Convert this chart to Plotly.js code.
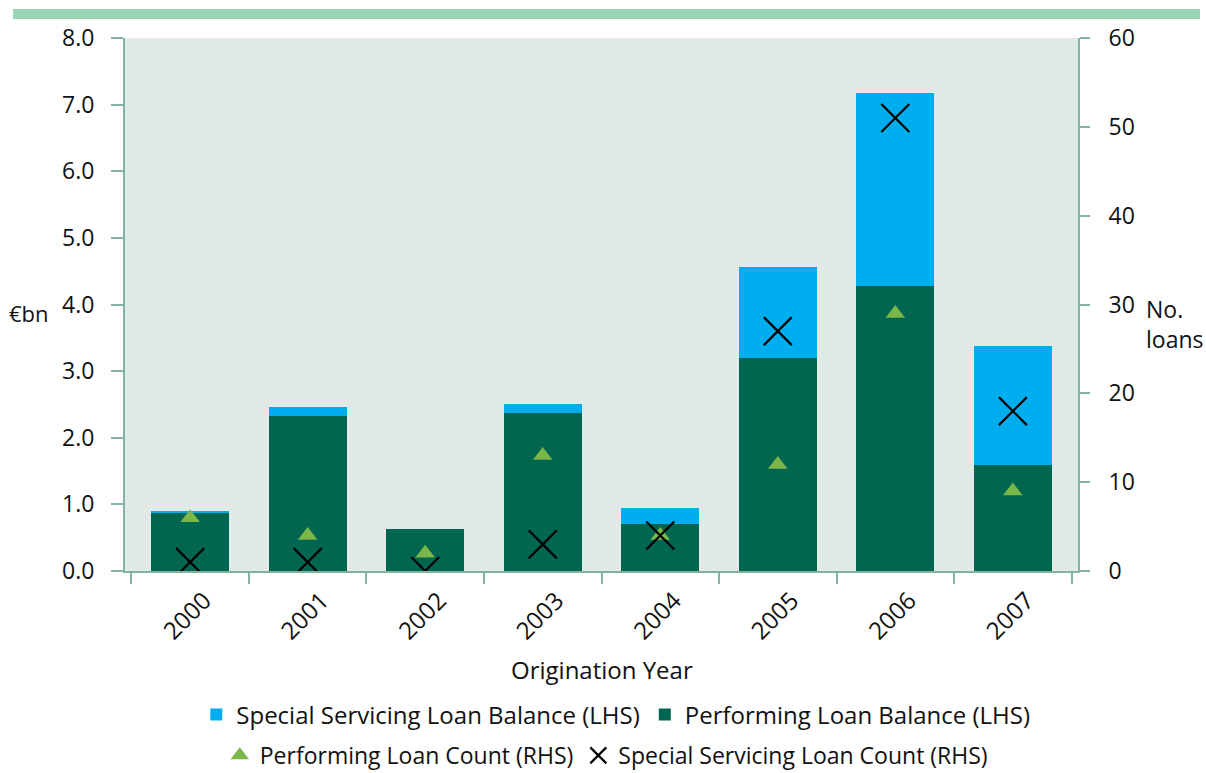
<!DOCTYPE html>
<html>
<head>
<meta charset="utf-8">
<script src="https://cdn.plot.ly/plotly-3.0.1.min.js"></script>
<style>html,body{margin:0;padding:0;background:#fff;}#chart{width:1206px;height:773px;}</style>
</head>
<body>
<div id="chart"></div>
<script>
const years = ['2000','2001','2002','2003','2004','2005','2006','2007'];
const performingBalance = [0.87, 2.33, 0.63, 2.37, 0.71, 3.20, 4.28, 1.59];
const specialBalance = [0.03, 0.13, 0.00, 0.14, 0.24, 1.36, 2.90, 1.78];
const performingCount = [6, 4, 2, 13, 4, 12, 29, 9];
const specialCount = [1, 1, 0, 3, 4, 27, 51, 18];

const FONT = 'Open Sans, DejaVu Sans, sans-serif';
const AX = '#82b4a0';

const data = [
  {type:'bar', x:years, y:performingBalance, name:'Performing Loan Balance (LHS)',
   marker:{color:'#00664f'}, legend:'legend', legendrank:2},
  {type:'bar', x:years, y:specialBalance, name:'Special Servicing Loan Balance (LHS)',
   marker:{color:'#00aeef'}, legend:'legend', legendrank:1},
  {type:'scatter', mode:'markers', x:years, y:performingCount, yaxis:'y2',
   name:'Performing Loan Count (RHS)', marker:{symbol:'triangle-up', size:17, color:'#7ab648'},
   legend:'legend2', legendrank:1},
  {type:'scatter', mode:'markers', x:years, y:specialCount, yaxis:'y2',
   name:'Special Servicing Loan Count (RHS)',
   marker:{symbol:'x-thin', size:28, color:'#000', line:{width:2.2, color:'#000'}},
   legend:'legend2', legendrank:2}
];

const layout = {
  width:1206, height:773,
  margin:{l:125, r:128, t:38, b:202, autoexpand:false},
  paper_bgcolor:'#fff', plot_bgcolor:'#e1eae7',
  barmode:'stack', bargap:0.337,
  font:{family:FONT, size:23, color:'#111'},
  xaxis:{type:'category', tickson:'boundaries', ticks:'outside', ticklen:11, tickcolor:AX, tickwidth:2,
    showline:true, linecolor:AX, linewidth:2, tickangle:-45, showgrid:false, zeroline:false,
    ticklabelshift:14, ticklabelstandoff:4, automargin:false,
    tickfont:{size:24, family:FONT}},
  yaxis:{range:[0,8], dtick:1, tickformat:'.1f', ticks:'outside', ticklen:12, tickcolor:AX, tickwidth:2,
    showline:true, linecolor:AX, linewidth:2, showgrid:false, zeroline:false, automargin:false,
    ticklabelstandoff:12, tickfont:{size:23, family:FONT}},
  yaxis2:{range:[0,60], dtick:10, overlaying:'y', side:'right', ticks:'outside', ticklen:10, tickcolor:AX, tickwidth:2,
    showline:true, linecolor:AX, linewidth:2, showgrid:false, zeroline:false, automargin:false,
    ticklabelstandoff:14, tickfont:{size:23, family:FONT}},
  legend:{orientation:'h', x:0.515, xanchor:'center', y:-0.27, yanchor:'middle', traceorder:'normal',
    font:{size:24, family:FONT}, bgcolor:'rgba(0,0,0,0)', itemwidth:30},
  legend2:{orientation:'h', x:0.505, xanchor:'center', y:-0.346, yanchor:'middle', traceorder:'normal',
    font:{size:23, family:FONT}, bgcolor:'rgba(0,0,0,0)', itemwidth:30},
  shapes:[{type:'rect', xref:'paper', yref:'paper', x0:-0.1175, x1:1.128, y0:1.0356, y1:1.0544,
    fillcolor:'#98d5b3', line:{width:0}}],
  annotations:[
    {text:'€bn', xref:'paper', yref:'paper', x:-0.124, y:0.484, xanchor:'left', yanchor:'middle',
     showarrow:false, font:{size:22, family:FONT}},
    {text:'No.<br>loans', xref:'paper', yref:'paper', x:1.069, y:0.463, xanchor:'left', yanchor:'middle',
     align:'left', showarrow:false, font:{size:23, family:FONT}},
    {text:'Origination Year', xref:'paper', yref:'paper', x:0.5, y:-0.184, xanchor:'center', yanchor:'middle',
     showarrow:false, font:{size:24, family:FONT}}
  ]
};

Plotly.newPlot('chart', data, layout, {displayModeBar:false, staticPlot:true});
</script>
</body>
</html>
